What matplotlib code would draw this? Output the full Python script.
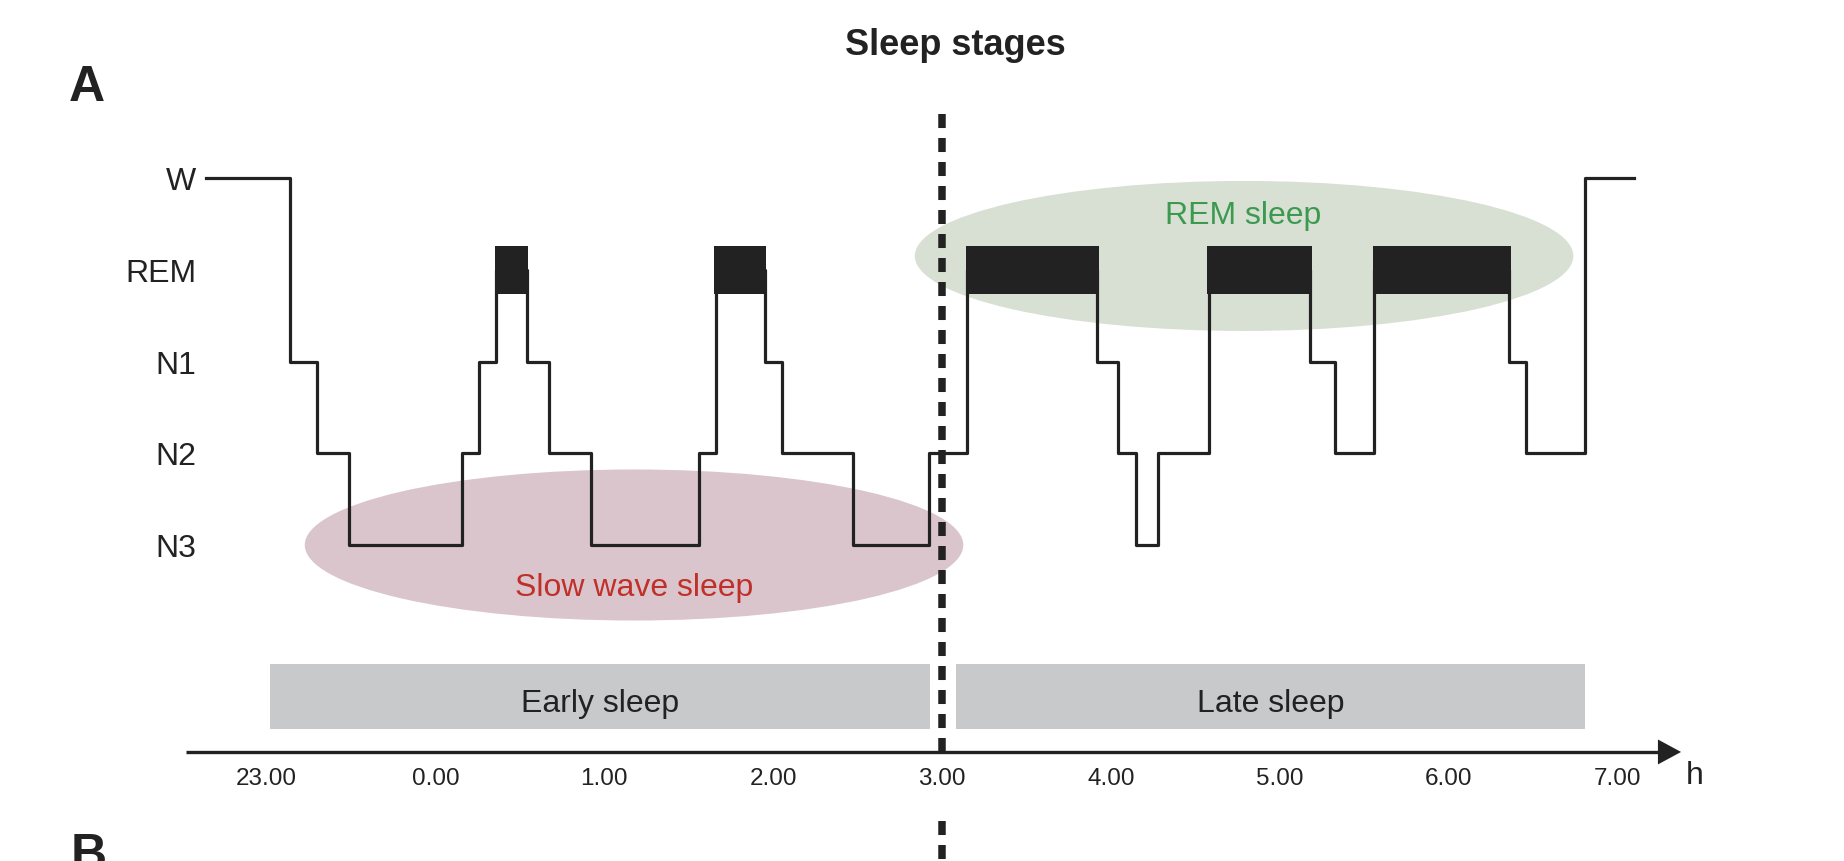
import matplotlib
matplotlib.use("Agg")
import matplotlib.pyplot as plt
from matplotlib.patches import Ellipse, Rectangle, Polygon

plt.rcParams['font.family'] = ['Liberation Sans', 'DejaVu Sans']

# Hypnogram: stage boundaries in hours after midnight (23.00 = -1)
stage_names = ["N3", "N2", "N1", "REM", "W"]
stage_level = {"N3": 0, "N2": 1, "N1": 2, "REM": 3, "W": 4}

seg_start = [-1.36, -0.86, -0.70, -0.51, 0.16, 0.26, 0.36, 0.54, 0.67, 0.92,
             1.56, 1.66, 1.95, 2.05, 2.47, 2.92, 3.15, 3.92, 4.04, 4.15,
             4.28, 4.58, 5.18, 5.33, 5.56, 6.36, 6.46, 6.81]
seg_stage = ["W", "N1", "N2", "N3", "N2", "N1", "REM", "N1", "N2", "N3",
             "N2", "REM", "N1", "N2", "N3", "N2", "REM", "N1", "N2", "N3",
             "N2", "REM", "N1", "N2", "REM", "N1", "N2", "W"]
record_end = 7.10

tick_hours = [-1, 0, 1, 2, 3, 4, 5, 6, 7]
tick_labels = ["23.00", "0.00", "1.00", "2.00", "3.00", "4.00", "5.00", "6.00", "7.00"]

# Early / late sleep periods (hours)
periods = [("Early sleep", -0.98, 2.93), ("Late sleep", 3.08, 6.81)]
split_hour = 3.0

LINE = "#222222"

fig = plt.figure(figsize=(18.44, 8.62), dpi=100)
ax = fig.add_axes([0, 0, 1, 1])
ax.set_xlim(-2.579, 8.342)
ax.set_ylim(-3.446, 5.954)
ax.axis("off")

# Highlight ellipses
ax.add_patch(Ellipse((1.176, 0.0), 3.90, 1.647, facecolor="#dac5cc", edgecolor="none", zorder=1))
ax.add_patch(Ellipse((4.789, 3.152), 3.90, 1.636, facecolor="#d8e0d3", edgecolor="none", zorder=1))
ax.text(1.176, -0.545, "Slow wave sleep", color="#c0302a", fontsize=23,
        ha="center", va="baseline", zorder=5)
ax.text(4.786, 3.508, "REM sleep", color="#3c9a50", fontsize=23,
        ha="center", va="baseline", zorder=5)

# Step hypnogram
xs = seg_start + [record_end]
ys = [stage_level[s] for s in seg_stage]
ys = ys + [ys[-1]]
ax.step(xs, ys, where="post", color=LINE, lw=2.3, zorder=3)

# REM blocks
ends = seg_start[1:] + [record_end]
for s0, s1, st in zip(seg_start, ends, seg_stage):
    if st == "REM":
        ax.add_patch(Rectangle((s0 - 0.01, 2.74), s1 - s0 + 0.02, 0.52,
                               facecolor=LINE, edgecolor="none", zorder=4))

# Stage labels
for name in stage_names:
    ax.text(-1.418, stage_level[name] - 0.12, name, fontsize=23,
            ha="right", va="baseline", color=LINE)

# Early / late sleep bars
for label, a, b in periods:
    ax.add_patch(Rectangle((a, -2.007), b - a, 0.709, facecolor="#c8c9cb",
                           edgecolor="none", zorder=1))
    ax.text((a + b) / 2, -1.81, label, fontsize=23, ha="center",
            va="baseline", color=LINE, zorder=2)

# Time axis with arrow
axis_y = -2.257
ax.plot([-1.477, 7.25], [axis_y, axis_y], color=LINE, lw=2.4,
        solid_capstyle="butt", zorder=3)
ax.add_patch(Polygon([[7.240, axis_y + 0.136], [7.377, axis_y],
                      [7.240, axis_y - 0.136]], closed=True,
                     facecolor=LINE, edgecolor="none", zorder=3))
ax.text(7.46, -2.60, "h", fontsize=23, ha="center", va="baseline", color=LINE)
for h, lab in zip(tick_hours, tick_labels):
    ax.text(h, -2.606, lab, fontsize=17.5, ha="center", va="baseline", color=LINE)

# Early/late split marker
dash = (0, (1.87, 1.33))
ax.plot([split_hour, split_hour], [4.70, axis_y], color=LINE, lw=5.4,
        linestyle=dash, zorder=6)
ax.plot([split_hour, split_hour], [-3.01, -3.6], color=LINE, lw=5.4,
        linestyle=dash, zorder=6)

# Titles and panel letters
fig.text(955 / 1844, 0.936, "Sleep stages", fontsize=26, fontweight="bold",
         ha="center", va="baseline", color=LINE)
fig.text(0.0472, 0.883, "A", fontsize=36, fontweight="bold", ha="center",
         va="baseline", color=LINE)
fig.text(0.048, -0.008, "B", fontsize=36, fontweight="bold", ha="center",
         va="baseline", color=LINE)

fig.savefig("out.png", dpi=100)
